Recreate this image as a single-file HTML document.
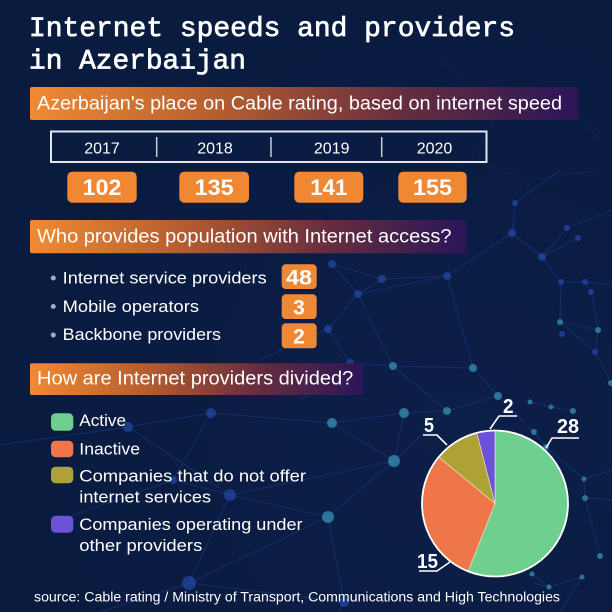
<!DOCTYPE html>
<html><head><meta charset="utf-8">
<style>
html,body{margin:0;padding:0;background:#0b1d43;}
svg{display:block;}
.t{font-family:"Liberation Sans",sans-serif;fill:#fff;}
.b{font-family:"Liberation Sans",sans-serif;fill:#fff;font-weight:bold;}
</style></head>
<body>
<svg width="612" height="612" viewBox="0 0 612 612" xmlns="http://www.w3.org/2000/svg">
<defs>
<linearGradient id="g" x1="0" y1="0" x2="1" y2="0">
<stop offset="0" stop-color="#f08a33"/>
<stop offset="0.35" stop-color="#b45d2f"/>
<stop offset="0.68" stop-color="#672d3e"/>
<stop offset="1" stop-color="#2a1559"/>
</linearGradient>
<radialGradient id="bg" cx="0.75" cy="0.7" r="0.7">
<stop offset="0" stop-color="#0c1f48"/>
<stop offset="1" stop-color="#0a1b40"/>
</radialGradient>
</defs>
<rect width="612" height="612" fill="url(#bg)"/>

<!-- background network -->
<g stroke="#1b3a85" stroke-width="1.2" opacity="0.5" fill="none">
<path d="M211,413 L332,423 L404,413 M332,423 L394,461 L404,413 M394,461 L230,495 L173,480 L211,413 M230,495 L328,517 L394,461 M328,517 L189,583 L344,602 L328,517 M230,495 L189,583 M128,427 L230,495 M128,427 L211,413 M128,427 L0,445 M173,480 L60,520 M189,583 L100,612 M344,602 L340,612"/>
<path d="M332,264 L358,294 L382,279 L447,276 M358,294 L447,276 M358,294 L328,329 L350,363 L393,366 M358,294 L393,366 M393,366 L473,368 L447,276 M473,368 L498,396 L447,411 L393,366 M447,411 L404,413 M394,461 L447,411 M498,396 L534,432 L546,447 M447,276 L512,233 M382,279 L332,264 M328,329 L260,360 M350,363 L300,400"/>
<path d="M512,233 L542,257 L567,228 M542,257 L578,238 M512,233 L515,203 M542,257 L561,282 L585,282 L591,292 M561,282 L560,322 L598,330 L595,352 L611,383 M591,292 L598,330 M560,322 L595,352 M585,282 L612,285 M515,203 L560,170 M567,228 L612,210"/>
<path d="M530,402 L551,407 L573,411 M546,447 L584,479 L612,470 M585,498 L600,556 M584,479 L585,498 M532,574 L549,587 L582,577 M534,583 L549,587 M585,498 L612,500 M560,612 L582,577"/>
</g>
<g stroke="#1b3a85" stroke-width="1" opacity="0.25" fill="none">
<path d="M440,60 L500,110 L560,95 L600,140 M500,110 L470,160 L420,190 M470,160 L530,180 L600,170 M530,180 L512,233"/>
</g>
<g fill="#2650b8" opacity="0.6">
<circle cx="128" cy="427" r="5"/><circle cx="211" cy="413" r="5"/><circle cx="230" cy="495" r="6"/>
<circle cx="173" cy="480" r="4"/><circle cx="189" cy="583" r="7"/><circle cx="344" cy="602" r="5"/>
<circle cx="332" cy="264" r="4"/><circle cx="358" cy="294" r="4"/><circle cx="382" cy="279" r="4"/>
<circle cx="447" cy="276" r="4"/><circle cx="328" cy="329" r="4"/><circle cx="350" cy="363" r="4"/>
<circle cx="512" cy="233" r="4"/><circle cx="515" cy="203" r="3"/><circle cx="542" cy="257" r="4"/>
<circle cx="567" cy="228" r="3"/><circle cx="578" cy="238" r="3"/><circle cx="561" cy="282" r="3"/>
<circle cx="585" cy="282" r="3"/><circle cx="591" cy="292" r="3"/><circle cx="562" cy="334" r="3"/>
<circle cx="595" cy="352" r="3"/>
</g>
<g fill="#3a98b8" opacity="0.7">
<circle cx="332" cy="423" r="5"/><circle cx="404" cy="413" r="5"/><circle cx="394" cy="461" r="6"/>
<circle cx="328" cy="517" r="6"/><circle cx="393" cy="366" r="4"/><circle cx="473" cy="368" r="4"/>
<circle cx="498" cy="396" r="4"/><circle cx="447" cy="411" r="4"/><circle cx="560" cy="322" r="3"/>
<circle cx="598" cy="330" r="3"/><circle cx="611" cy="383" r="3"/><circle cx="534" cy="432" r="3"/>
<circle cx="546" cy="447" r="3"/><circle cx="585" cy="498" r="3"/><circle cx="600" cy="556" r="3"/>
<circle cx="532" cy="574" r="2.5"/><circle cx="549" cy="587" r="2.5"/><circle cx="582" cy="577" r="2.5"/>
<circle cx="530" cy="402" r="2.5"/><circle cx="551" cy="407" r="2.5"/><circle cx="573" cy="411" r="3"/>
<circle cx="584" cy="479" r="2.5"/>
</g>

<!-- title -->
<g font-family="'Liberation Mono',monospace" font-size="28" fill="#fff" stroke="#fff" stroke-width="0.7">
<text x="29" y="36" textLength="486" lengthAdjust="spacingAndGlyphs">Internet speeds and providers</text>
<text x="29" y="68.5" textLength="217" lengthAdjust="spacingAndGlyphs">in Azerbaijan</text>
</g>

<!-- banner 1 -->
<rect x="30" y="87" width="548" height="33" rx="2" fill="url(#g)"/>
<text class="t" x="37" y="109.5" font-size="19" textLength="525" lengthAdjust="spacingAndGlyphs">Azerbaijan's place on Cable rating, based on internet speed</text>

<!-- year box -->
<rect x="51" y="131.5" width="435.5" height="30.5" fill="none" stroke="#e6e6ea" stroke-width="2"/>
<g stroke="#c8cad2" stroke-width="1.5">
<line x1="156.7" y1="137" x2="156.7" y2="157"/>
<line x1="271" y1="137" x2="271" y2="157"/>
<line x1="381.7" y1="137" x2="381.7" y2="157"/>
</g>
<g class="t" font-size="16" text-anchor="middle">
<text x="102" y="153.3">2017</text>
<text x="215" y="153.3">2018</text>
<text x="331.7" y="153.3">2019</text>
<text x="434.5" y="153.3">2020</text>
</g>
<g fill="#ef8733">
<rect x="67.3" y="171.7" width="69.4" height="31" rx="5"/>
<rect x="179.3" y="171.7" width="69.7" height="31" rx="5"/>
<rect x="294.3" y="171.7" width="69" height="31" rx="5"/>
<rect x="398.3" y="171.7" width="68.4" height="31" rx="5"/>
</g>
<g class="b" font-size="22" text-anchor="middle">
<text x="102" y="195" textLength="39" lengthAdjust="spacingAndGlyphs">102</text>
<text x="214.2" y="195" textLength="39" lengthAdjust="spacingAndGlyphs">135</text>
<text x="328.8" y="195" textLength="37" lengthAdjust="spacingAndGlyphs">141</text>
<text x="432.5" y="195" textLength="39" lengthAdjust="spacingAndGlyphs">155</text>
</g>

<!-- banner 2 -->
<rect x="30" y="220" width="436.7" height="33.3" rx="2" fill="url(#g)"/>
<text class="t" x="37" y="242.5" font-size="19" textLength="414.5" lengthAdjust="spacingAndGlyphs">Who provides population with Internet access?</text>

<g fill="#a3aabb">
<circle cx="53.3" cy="278" r="2.5"/>
<circle cx="53.3" cy="306.5" r="2.5"/>
<circle cx="53.3" cy="335" r="2.5"/>
</g>
<g class="t" font-size="17">
<text x="62.7" y="283.5" textLength="204" lengthAdjust="spacingAndGlyphs">Internet service providers</text>
<text x="62.7" y="311.8" textLength="136.3" lengthAdjust="spacingAndGlyphs">Mobile operators</text>
<text x="62.7" y="340.2" textLength="158.3" lengthAdjust="spacingAndGlyphs">Backbone providers</text>
</g>
<g fill="#ef8733">
<rect x="281.7" y="264.3" width="35" height="24.7" rx="4"/>
<rect x="281.7" y="294.3" width="35" height="24.7" rx="4"/>
<rect x="281.7" y="323.3" width="35" height="25" rx="4"/>
</g>
<g class="b" font-size="21" text-anchor="middle">
<text x="299" y="284.5" textLength="26" lengthAdjust="spacingAndGlyphs">48</text>
<text x="299" y="314.3">3</text>
<text x="299" y="343.3">2</text>
</g>

<!-- banner 3 -->
<rect x="30" y="363.3" width="333.3" height="31.7" rx="2" fill="url(#g)"/>
<text class="t" x="37" y="384.5" font-size="19" textLength="316.3" lengthAdjust="spacingAndGlyphs">How are Internet providers divided?</text>

<!-- legend -->
<rect x="51" y="413.3" width="22.3" height="17.4" rx="4.5" fill="#6fcf8f"/>
<rect x="51" y="440.7" width="22.3" height="16.5" rx="4.5" fill="#ee7649"/>
<rect x="51" y="466.7" width="22.3" height="16.5" rx="4.5" fill="#aea136"/>
<rect x="51" y="515.7" width="22.3" height="17" rx="4.5" fill="#6b52d6"/>
<g class="t" font-size="17">
<text x="79.3" y="426" textLength="46.7" lengthAdjust="spacingAndGlyphs">Active</text>
<text x="79.3" y="454.3" textLength="60.7" lengthAdjust="spacingAndGlyphs">Inactive</text>
<text x="79.3" y="481.7" textLength="226.7" lengthAdjust="spacingAndGlyphs">Companies that do not offer</text>
<text x="79.3" y="502.3" textLength="131.7" lengthAdjust="spacingAndGlyphs">internet services</text>
<text x="79.3" y="530" textLength="223.3" lengthAdjust="spacingAndGlyphs">Companies operating under</text>
<text x="79.3" y="551" textLength="123" lengthAdjust="spacingAndGlyphs">other providers</text>
</g>

<!-- pie -->
<g stroke="#f4e9d8" stroke-width="0.6" stroke-linejoin="round">
<path d="M495,503.5 L495,430.5 A73,73 0 1 1 468.13,571.38 Z" fill="#6fcf8f"/>
<path d="M495,503.5 L468.13,571.38 A73,73 0 0 1 438.75,456.97 Z" fill="#ee7649"/>
<path d="M495,503.5 L438.75,456.97 A73,73 0 0 1 476.84,432.79 Z" fill="#aea136"/>
<path d="M495,503.5 L476.84,432.79 A73,73 0 0 1 495,430.5 Z" fill="#6b52d6"/>
</g>
<circle cx="495" cy="503.5" r="73" fill="none" stroke="#ffffff" stroke-width="1.8"/>

<!-- pie labels -->
<g stroke="#ffffff" stroke-width="1.6" fill="none">
<path d="M579,438 L552,438 L546,448"/>
<path d="M517,416 L499,416 L490,429"/>
<path d="M423,435 L437,435 L447,445"/>
<path d="M419,571 L437,571 L450,562"/>
</g>
<g class="b" font-size="20">
<text x="557" y="433" textLength="22" lengthAdjust="spacingAndGlyphs">28</text>
<text x="503" y="413" textLength="10.5" lengthAdjust="spacingAndGlyphs">2</text>
<text x="424" y="432" textLength="10" lengthAdjust="spacingAndGlyphs">5</text>
<text x="417" y="568" textLength="21" lengthAdjust="spacingAndGlyphs">15</text>
</g>

<!-- source -->
<text class="t" x="34" y="601.7" font-size="13.5" textLength="526" lengthAdjust="spacingAndGlyphs">source: Cable rating / Ministry of Transport, Communications and High Technologies</text>
</svg>
</body></html>
